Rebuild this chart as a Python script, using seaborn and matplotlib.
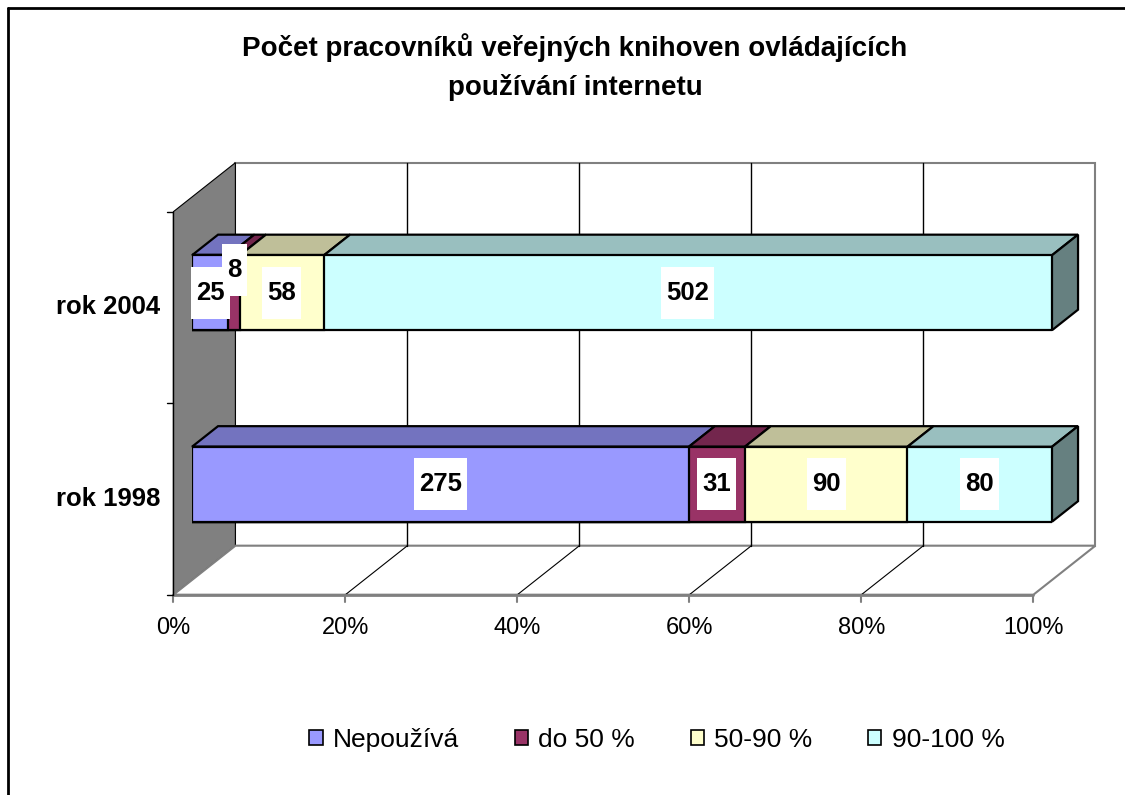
import pandas as pd
import seaborn as sns
import matplotlib.pyplot as plt
from matplotlib.patches import Polygon, Rectangle, Patch
from matplotlib import transforms as mtrans
from matplotlib.colors import to_rgb
from matplotlib.lines import Line2D

# data
years = ["rok 2004", "rok 1998"]
groups = ["Nepoužívá", "do 50 %", "50-90 %", "90-100 %"]
counts_2004 = [25, 8, 58, 502]
counts_1998 = [275, 31, 90, 80]
ticks = [0, 20, 40, 60, 80, 100]
tick_labels = ["0%", "20%", "40%", "60%", "80%", "100%"]
title = "Počet pracovníků veřejných knihoven ovládajících\npoužívání internetu"
front_colors = ["#9999FF", "#993366", "#FFFFCC", "#CCFFFF"]

rows = []
for year, counts in zip(years, [counts_2004, counts_1998]):
    total = sum(counts)
    start = 0.0
    for g, c in zip(groups, counts):
        pct = c / total * 100
        rows.append({"year": year, "group": g, "count": c, "start": start, "end": start + pct})
        start += pct
df = pd.DataFrame(rows)

sns.set_style("white")
plt.rcParams["font.family"] = ["Liberation Sans", "DejaVu Sans"]
plt.rcParams["text.color"] = "black"

W, H = 1125, 795
fig = plt.figure(figsize=(W / 100, H / 100), dpi=100)
L, R, T, B = 192, 1052, 197, 580
ax = fig.add_axes([L / W, 1 - B / H, (R - L) / W, (B - T) / H])

# fake 3d: depth vector in pixels, bars sit between depth D0 and D1
DX, DY = 62, 49
D0, D1 = 0.3, 0.72
sx = 100 / (R - L)
sy = 2 / (B - T)


def pt(x, y, d):
    return (x + DX * (d - D0) * sx, y - DY * (d - D0) * sy)


def poly(points, **kw):
    ax.add_patch(Polygon(points, closed=True, clip_on=False, **kw))


gray = "#808080"
# walls and floor
poly([pt(0, -0.5, 0), pt(0, 1.5, 0), pt(0, 1.5, 1), pt(0, -0.5, 1)],
     facecolor=gray, edgecolor="black", linewidth=0.8, zorder=0.5)
poly([pt(0, -0.5, 1), pt(100, -0.5, 1), pt(100, 1.5, 1), pt(0, 1.5, 1)],
     facecolor="white", edgecolor=gray, linewidth=1.5, zorder=0.4)
poly([pt(0, 1.5, 0), pt(100, 1.5, 0), pt(100, 1.5, 1), pt(0, 1.5, 1)],
     facecolor="white", edgecolor=gray, linewidth=1.5, zorder=0.6)

for t in ticks[1:-1]:
    ax.plot(*zip(pt(t, 1.5, 1), pt(t, -0.5, 1)), color="black", lw=1, zorder=1, clip_on=False)
    ax.plot(*zip(pt(t, 1.5, 0), pt(t, 1.5, 1)), color="black", lw=0.8, zorder=1, clip_on=False)
ax.plot(*zip(pt(0, 1.5, 0), pt(100, 1.5, 0)), color=gray, lw=2, zorder=1.1, clip_on=False)
for t, lab in zip(ticks, tick_labels):
    x0, y0 = pt(t, 1.5, 0)
    ax.plot([x0, x0], [y0, y0 + 7 * sy], color=gray, lw=1.5, zorder=1, clip_on=False)
    ax.text(x0, y0 + 33 * sy, lab, ha="center", va="center", fontsize=17)

ax.plot(*zip(pt(0, -0.5, 0), pt(0, 1.5, 0)), color="black", lw=1, zorder=1.2, clip_on=False)
for yv in [-0.5, 0.5, 1.5]:
    x0, y0 = pt(0, yv, 0)
    ax.plot([x0 - 6 * sx, x0], [y0, y0], color="black", lw=1, zorder=1.2, clip_on=False)

for i, year in enumerate(years):
    x0, y0 = pt(0, i, 0)
    ax.text(x0 - 13 * sx, y0, year, ha="right", va="center", fontsize=18.5, fontweight="bold")

# bars: front faces (stacked by cumulative ends)
bh = 75 * sy
for i in reversed(range(len(groups))):
    sub = df[df["group"] == groups[i]]
    sns.barplot(data=sub, x="end", y="year", order=years, orient="h",
                color=front_colors[i], saturation=1, width=bh,
                edgecolor="black", linewidth=1.6, ax=ax, zorder=3)

# top and side faces
for yi, year in enumerate(years):
    sub = df[df["year"] == year].reset_index(drop=True)
    yt, yb = yi - bh / 2, yi + bh / 2
    for k, r in sub.iterrows():
        top = tuple(c * 0.75 for c in to_rgb(front_colors[k]))
        poly([pt(r["start"], yt, D0), pt(r["end"], yt, D0), pt(r["end"], yt, D1), pt(r["start"], yt, D1)],
             facecolor=top, edgecolor="black", linewidth=1.6, zorder=2.5)
    side = tuple(c * 0.5 for c in to_rgb(front_colors[-1]))
    poly([pt(100, yt, D0), pt(100, yb, D0), pt(100, yb, D1), pt(100, yt, D1)],
         facecolor=side, edgecolor="black", linewidth=1.6, zorder=2.5)

    # value labels in white boxes, nudged up if they would overlap
    prev_right = None
    for k, r in sub.iterrows():
        s = str(r["count"])
        xc = (r["start"] + r["end"]) / 2
        w, h = 14 * len(s) + 11, 52
        xc_px = xc / sx
        shift = 0
        if prev_right is not None and xc_px - w / 2 < prev_right:
            shift = 23
        prev_right = xc_px + w / 2
        tr = fig.dpi_scale_trans + mtrans.ScaledTranslation(xc, yi, ax.transData)
        ax.add_patch(Rectangle((-w / 200, (-h / 2 + shift) / 100), w / 100, h / 100,
                               transform=tr, facecolor="white", edgecolor="none",
                               zorder=5, clip_on=False))
        ax.text(xc, yi, s, ha="center", va="center", fontsize=18.5, fontweight="bold", zorder=6,
                transform=mtrans.offset_copy(ax.transData, fig=fig, x=0, y=shift, units="dots"))

ax.set_xlim(0, 100)
ax.set_ylim(1.5, -0.5)
ax.axis("off")

fig.text(575 / W, 1 - 67 / H, title, ha="center", va="center", fontsize=20,
         fontweight="bold", linespacing=1.55)

handles = [Patch(facecolor=c, edgecolor="black", linewidth=1.2) for c in front_colors]
fig.legend(handles, groups, loc="center", bbox_to_anchor=(657 / W, 1 - 740 / H), ncol=4,
           frameon=False, fontsize=19, handlelength=0.5, handleheight=0.5,
           handletextpad=0.4, columnspacing=2.1)

# outer chart frame
fig.add_artist(Line2D([8 / W, 8 / W], [0, 1 - 8 / H], color="black", lw=2, transform=fig.transFigure))
fig.add_artist(Line2D([8 / W, 1], [1 - 8 / H, 1 - 8 / H], color="black", lw=2, transform=fig.transFigure))

fig.savefig("out.png", dpi=100)
